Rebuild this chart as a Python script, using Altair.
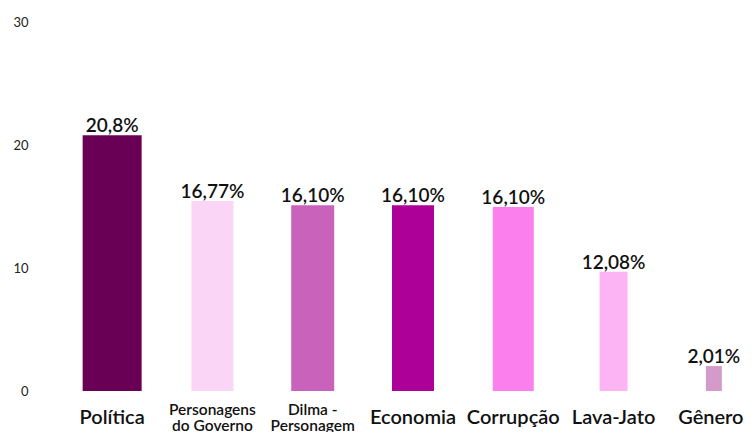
import altair as alt
import pandas as pd

categories = ["Política", "Personagens do Governo", "Dilma - Personagem",
              "Economia", "Corrupção", "Lava-Jato", "Gênero"]
bar_values = [20.8, 15.45, 15.1, 15.1, 14.95, 9.7, 2.03]
bar_labels = ["20,8%", "16,77%", "16,10%", "16,10%", "16,10%", "12,08%", "2,01%"]
colors = ["#6a0056", "#fad5f6", "#c862bb", "#ad0099", "#fb80ee", "#fdb4f4", "#d49aca"]
bar_widths = [59, 42, 43, 42, 41, 28, 16]
y_ticks = [0, 10, 20, 30]

df = pd.DataFrame({"cat": categories, "val": bar_values, "lab": bar_labels})

multi = "datum.value == 'Personagens do Governo' || datum.value == 'Dilma - Personagem'"
label_expr = ("datum.value == 'Personagens do Governo' ? ['Personagens', 'do Governo'] : "
              "datum.value == 'Dilma - Personagem' ? ['Dilma -', 'Personagem'] : datum.value")

x = alt.X("cat:N", sort=categories, title=None,
          scale=alt.Scale(range=[22, 724], paddingInner=0, paddingOuter=0),
          axis=alt.Axis(labelAngle=0, ticks=False, tickSize=0, domain=False,
                        labelExpr=label_expr, labelBaseline="middle",
                        labelPadding={"condition": {"test": multi, "value": 18}, "value": 26},
                        labelOffset={"condition": {"test": "datum.value == 'Gênero'", "value": -3}, "value": 0},
                        labelFont="Lato", labelColor="#111111",
                        labelFontWeight=600, labelLineHeight=16,
                        labelFontSize={"condition": {"test": multi, "value": 15.5}, "value": 20},
                        labelOverlap=False, labelLimit=200))

y = alt.Y("val:Q", title=None,
          scale=alt.Scale(domain=[0, 30], nice=False),
          axis=alt.Axis(values=y_ticks, grid=False, ticks=False, tickSize=0, domain=False,
                        labelFont="Lato", labelFontSize=13, labelColor="#222222",
                        labelPadding=12))

color = alt.Color("cat:N", scale=alt.Scale(domain=categories, range=colors), legend=None)

base = alt.Chart(df)
layers = []
for cat, w in zip(categories, bar_widths):
    layers.append(
        base.mark_bar(size=w)
        .encode(x=x, y=y, color=color)
        .transform_filter(alt.datum.cat == cat)
    )

texts = base.mark_text(font="Lato", fontSize=19, fontWeight=600, color="#111111",
                       baseline="alphabetic", dy=-3).encode(
    x=alt.X("cat:N", sort=categories), y="val:Q", text="lab:N")

chart = alt.layer(*layers, texts).properties(
    width=704, height=369,
    autosize=alt.AutoSizeParams(type="none"),
    padding={"left": 32, "top": 14, "right": 0, "bottom": 41},
).configure_view(stroke=None)

chart.save("out.html", embed_options={"renderer": "svg", "actions": False})
